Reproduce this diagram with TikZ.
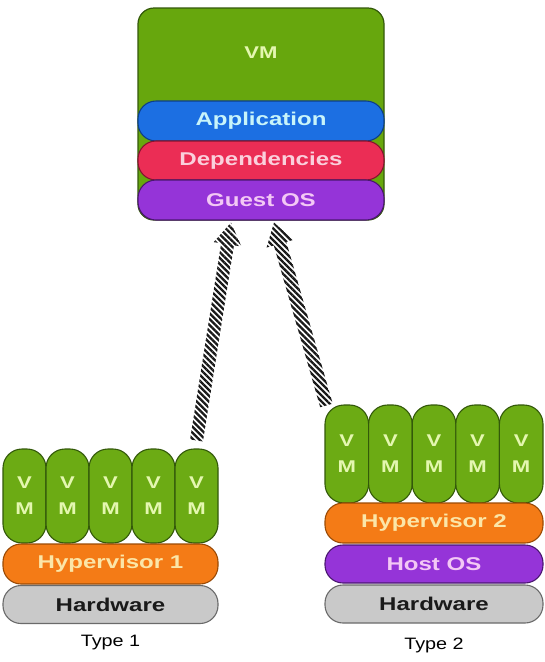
\documentclass[tikz,border=0pt]{standalone}
\usepackage{fontspec}
\setmainfont{Liberation Sans}
\newfontfamily\widebold{Liberation Sans}[FakeStretch=1.3]
\newfontfamily\widereg{Liberation Sans}[FakeStretch=1.2]
\usetikzlibrary{calc,patterns.meta}
\definecolor{vmgreen}{HTML}{67A70D}
\definecolor{pillgreen}{HTML}{6CAB14}
\definecolor{greenedge}{HTML}{33590A}
\definecolor{greentext}{HTML}{E4F7B0}
\definecolor{appblue}{HTML}{1C6FE2}
\definecolor{appedge}{HTML}{0E3E88}
\definecolor{apptext}{HTML}{C8F4FA}
\definecolor{depred}{HTML}{EB2D55}
\definecolor{depedge}{HTML}{85142F}
\definecolor{deptext}{HTML}{FAD0DC}
\definecolor{osviolet}{HTML}{9534D8}
\definecolor{osedge}{HTML}{4A1770}
\definecolor{ostext}{HTML}{F3C8F5}
\definecolor{hyporange}{HTML}{F47B16}
\definecolor{hypedge}{HTML}{9A4A05}
\definecolor{hyptext}{HTML}{FBE6A8}
\definecolor{hwgray}{HTML}{C9C9C9}
\definecolor{hwedge}{HTML}{6A6A6A}
\definecolor{hwtext}{HTML}{1A1A1A}
\tikzset{
  vmbox/.style={draw=greenedge, line width=1.2pt, fill=vmgreen, rounded corners=16pt,
    minimum width=246pt, minimum height=212pt, inner sep=0pt},
  layer/.style={line width=1.1pt, rounded corners=18pt, inner sep=0pt,
    font=\widebold\bfseries\fontsize{18.5}{20}\selectfont},
  applayer/.style={layer, draw=appedge, fill=appblue, text=apptext},
  deplayer/.style={layer, draw=depedge, fill=depred, text=deptext},
  oslayer/.style={layer, draw=osedge, fill=osviolet, text=ostext},
  hyplayer/.style={layer, draw=hypedge, fill=hyporange, text=hyptext},
  hwlayer/.style={layer, draw=hwedge, fill=hwgray, text=hwtext},
  vmpill/.style={draw=greenedge, line width=1.1pt, fill=pillgreen, rounded corners=19pt,
    inner sep=0pt, text=greentext, align=center,
    font=\widebold\bfseries\fontsize{17}{26}\selectfont},
  typelabel/.style={text=black, font=\widereg\fontsize{16.5}{18}\selectfont},
  hatch/.style={pattern={Lines[angle=-45,distance=4.2pt,line width=2.3pt]}, pattern color=black!90}
}
\newcommand{\hatcharrow}[3]{%
  \coordinate (#3b) at ($(#2)!22pt!(#1)$);
  \fill[hatch] ($(#1)!6.5pt!90:(#2)$) -- ($(#3b)!6.5pt!90:(#2)$) -- ($(#3b)!14pt!90:(#2)$)
    -- (#2) -- ($(#3b)!14pt!-90:(#2)$) -- ($(#3b)!6.5pt!-90:(#2)$)
    -- ($(#1)!6.5pt!-90:(#2)$) -- cycle;}
\begin{document}
\begin{tikzpicture}[x=1pt,y=-1pt]
\useasboundingbox (0,0) rectangle (545,662);
\fill[white] (0,0) rectangle (545,662);
% VM detail box
\node[vmbox] (vm) at (261,114) {};
\node[text=greentext, font=\widebold\bfseries\fontsize{17}{20}\selectfont] (vmlabel) at (261,53) {VM};
\node[applayer, minimum width=246pt, minimum height=40pt] (app) at (261,121) {Application};
\node[deplayer, minimum width=246pt, minimum height=39pt] (dep) at (261,160.5) {Dependencies};
\node[oslayer, minimum width=246pt, minimum height=40pt] (guest) at (261,200) {Guest OS};
% Type 1 stack
\foreach \i/\x in {1/24.5,2/67.5,3/110.5,4/153.5,5/196.5}{
  \node[vmpill, minimum width=43pt, minimum height=94pt] (l\i) at (\x,496) {V\\M};
}
\node[hyplayer, minimum width=215pt, minimum height=40pt] (hyp1) at (110.5,564) {Hypervisor 1};
\node[hwlayer, minimum width=215pt, minimum height=38pt] (hw1) at (110.5,604.5) {Hardware};
\node[typelabel] (type1) at (110.5,643) {Type 1};
% Type 2 stack
\foreach \i/\x in {1/346.8,2/390.4,3/434,4/477.6,5/521.2}{
  \node[vmpill, minimum width=43.6pt, minimum height=98pt] (r\i) at (\x,454) {V\\M};
}
\node[hyplayer, minimum width=218pt, minimum height=40pt] (hyp2) at (434,523) {Hypervisor 2};
\node[oslayer, minimum width=218pt, minimum height=38pt] (host) at (434,564) {Host OS};
\node[hwlayer, minimum width=218pt, minimum height=38pt] (hw2) at (434,604) {Hardware};
\node[typelabel] (type2) at (434,645) {Type 2};
% hatched arrows
\coordinate (tipA) at ($(guest.south)+(-30,2)$);
\coordinate (tipB) at ($(guest.south)+(13,2)$);
\coordinate (tailA) at ($(l5.north)+(0,-8)$);
\coordinate (tailB) at ($(r1.north west)+(2,1)$);
\hatcharrow{tailA}{tipA}{arrA}
\hatcharrow{tailB}{tipB}{arrB}
\end{tikzpicture}
\end{document}
